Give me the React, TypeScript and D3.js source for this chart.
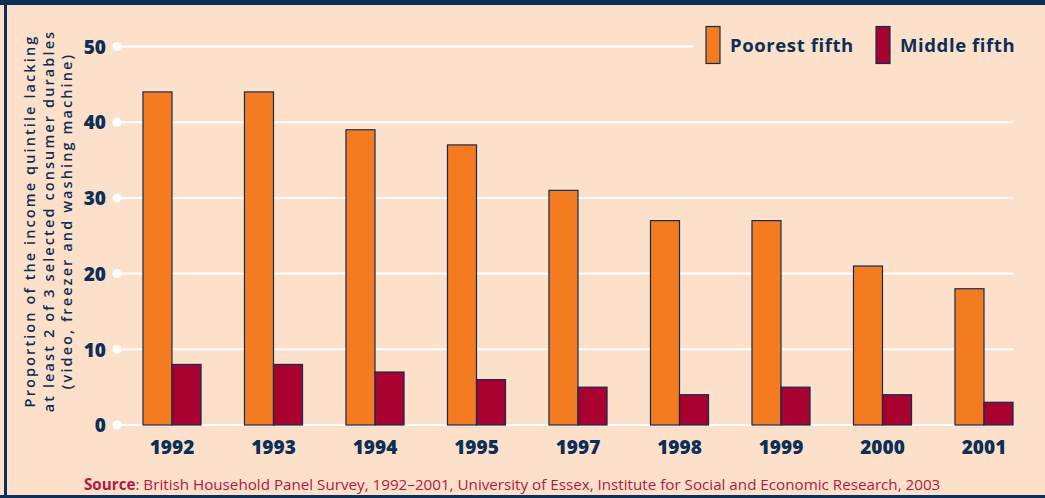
import React from "react";
import * as d3 from "d3";

const years = ["1992", "1993", "1994", "1995", "1997", "1998", "1999", "2000", "2001"];
const poorest = [44, 44, 39, 37, 31, 27, 27, 21, 18];
const middle = [8, 8, 7, 6, 5, 4, 5, 4, 3];
const yTicks = [0, 10, 20, 30, 40, 50];
const seriesNames = ["Poorest fifth", "Middle fifth"];
const titleLines = [
  "Proportion of the income quintile lacking",
  "at least 2 of 3 selected consumer durables",
  "(video, freezer and washing machine)",
];

const W = 1045;
const H = 498;
const BG = "#FDE0C9";
const NAVY = "#0C2F57";
const ORANGE = "#F47B20";
const CRIMSON = "#A8002F";
const SRC = "#B5173E";
const FONT = "'Open Sans', 'Noto Sans', sans-serif";

export default function App() {
  const y = d3.scaleLinear().domain([0, 50]).range([425, 46.5]);
  const x = d3
    .scaleBand<string>()
    .domain(years)
    .range([121.25, 1034.75])
    .paddingInner(0.428)
    .paddingOuter(0.214);
  const bw = x.bandwidth() / 2;
  const colors = [ORANGE, CRIMSON];

  return (
    <svg
      width={W}
      height={H}
      style={{ position: "absolute", left: 0, top: 0, display: "block" }}
      fontFamily={FONT}
    >
      <rect x={0} y={0} width={W} height={H} fill={BG} />
      <rect x={0} y={0} width={W} height={5} fill={NAVY} />
      <rect x={4} y={0} width={3} height={H} fill={NAVY} />
      <rect x={0} y={495} width={W} height={3} fill={NAVY} />

      {yTicks.map((t) => (
        <g key={t}>
          <line x1={117} x2={1013} y1={y(t)} y2={y(t)} stroke="#FFFFFF" strokeWidth={2} />
          <circle cx={117} cy={y(t)} r={4.5} fill="#FFFFFF" />
          <text
            x={106}
            y={y(t)}
            dy="0.38em"
            textAnchor="end"
            fontSize={19}
            fontWeight={800}
            fill={NAVY}
          >
            {t}
          </text>
        </g>
      ))}

      {years.map((yr, i) => {
        const x0 = x(yr) as number;
        return (
          <g key={yr}>
            <rect
              x={x0}
              y={y(poorest[i])}
              width={bw}
              height={y(0) - y(poorest[i])}
              fill={ORANGE}
              stroke={NAVY}
              strokeWidth={1.2}
            />
            <rect
              x={x0 + bw}
              y={y(middle[i])}
              width={bw}
              height={y(0) - y(middle[i])}
              fill={CRIMSON}
              stroke={NAVY}
              strokeWidth={1.2}
            />
            <text
              x={x0 + bw}
              y={454}
              textAnchor="middle"
              fontSize={19}
              fontWeight={800}
              fill={NAVY}
            >
              {yr}
            </text>
          </g>
        );
      })}

      {/* legend */}
      <rect x={693} y={18} width={330} height={52} fill={BG} />
      {seriesNames.map((s, i) => {
        const lx = i === 0 ? 706 : 876;
        return (
          <g key={s}>
            <rect x={lx} y={26.5} width={14} height={37} fill={colors[i]} stroke={NAVY} strokeWidth={1.2} />
            <text x={lx + 24} y={51.5} fontSize={18.5} fontWeight={700} letterSpacing={0.6} fill={NAVY}>
              {s}
            </text>
          </g>
        );
      })}

      {/* y title */}
      <g transform="translate(0,221)">
        {titleLines.map((l, i) => (
          <text
            key={i}
            transform={`translate(${35 + i * 18.5},0) rotate(-90)`}
            textAnchor="middle"
            fontSize={14.5}
            fontWeight={600}
            letterSpacing={2.1}
            fill={NAVY}
          >
            {l}
          </text>
        ))}
      </g>

      <text x={84} y={490} fontSize={15.2} fill={SRC}>
        <tspan fontWeight={700}>Source</tspan>
        <tspan>: British Household Panel Survey, 1992–2001, University of Essex, Institute for Social and Economic Research, 2003</tspan>
      </text>
    </svg>
  );
}
